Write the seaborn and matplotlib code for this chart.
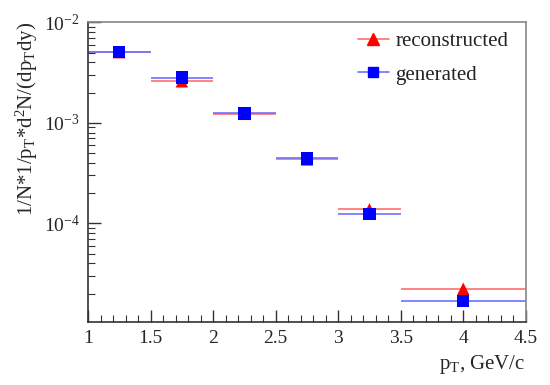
import numpy as np
import pandas as pd
import matplotlib
matplotlib.use("Agg")
import matplotlib.pyplot as plt
import seaborn as sns
from matplotlib.ticker import LogLocator, MultipleLocator, NullFormatter
from matplotlib.lines import Line2D

# data
pt_centers = [1.25, 1.75, 2.25, 2.75, 3.25, 4.0]
pt_halfwidth = [0.25, 0.25, 0.25, 0.25, 0.25, 0.5]
reconstructed = [5.05e-3, 2.59e-3, 1.23e-3, 4.33e-4, 1.38e-4, 2.24e-5]
generated = [5.1e-3, 2.82e-3, 1.245e-3, 4.43e-4, 1.24e-4, 1.69e-5]
x_ticks = [1, 1.5, 2, 2.5, 3, 3.5, 4, 4.5]
x_tick_labels = ["1", "1.5", "2", "2.5", "3", "3.5", "4", "4.5"]

sns.set_theme(style="ticks")
plt.rcParams["font.family"] = ["Liberation Serif", "DejaVu Serif"]
plt.rcParams["mathtext.fontset"] = "custom"
plt.rcParams["mathtext.rm"] = "Liberation Serif"
plt.rcParams["mathtext.it"] = "Liberation Serif:italic"

df = pd.DataFrame({
    "pt": pt_centers * 2,
    "err": pt_halfwidth * 2,
    "val": reconstructed + generated,
    "series": ["reconstructed"] * len(pt_centers) + ["generated"] * len(pt_centers),
})

fig = plt.figure(figsize=(5.5, 3.85), dpi=100)
ax = fig.add_axes([0.16, 0.164, 0.796, 0.778])

line_col = {"reconstructed": "#ff7070", "generated": "#7070ff"}
mk_col = {"reconstructed": "#ff0000", "generated": "#0000ff"}
mk = {"reconstructed": "^", "generated": "s"}

for s in ["reconstructed", "generated"]:
    d = df[df.series == s]
    ax.errorbar(d.pt, d.val, xerr=d.err, fmt="none", ecolor=line_col[s], elinewidth=1.2, capsize=0, zorder=2)
sns.scatterplot(data=df, x="pt", y="val", hue="series", style="series",
                markers=mk, palette=mk_col, s=80, linewidth=0, ax=ax, legend=False, zorder=3)

ax.set_yscale("log")
ax.set_xlim(1, 4.5)
ax.set_ylim(1.05e-5, 1e-2)
ax.set_xticks(x_ticks)
ax.set_xticklabels(x_tick_labels)
ax.xaxis.set_minor_locator(MultipleLocator(0.1))
ax.yaxis.set_major_locator(LogLocator(base=10, numticks=10))
ax.yaxis.set_minor_locator(LogLocator(base=10, subs=np.arange(2, 10), numticks=20))
ax.yaxis.set_minor_formatter(NullFormatter())
ax.tick_params(which="major", direction="in", length=9, width=1, labelsize=14, color="#333333", pad=6)
ax.tick_params(which="minor", direction="in", length=5, width=0.8, color="#333333")
ax.tick_params(top=False, right=False)
for name, sp in ax.spines.items():
    sp.set_color("#333333" if name in ("left", "bottom") else "#888888")
    sp.set_linewidth(1.2)

ax.set_xlabel(r"p$_{\rm T}$, GeV/c", fontsize=15, loc="right", labelpad=4)
ax.set_ylabel(r"1/N*1/p$_{\rm T}$*d$^{2}$N/(dp$_{\rm T}$dy)", fontsize=15, loc="top", labelpad=3)

handles = [
    Line2D([], [], color=line_col["reconstructed"], marker="^", markerfacecolor=mk_col["reconstructed"],
           markeredgecolor=mk_col["reconstructed"], markersize=8, lw=1.2),
    Line2D([], [], color=line_col["generated"], marker="s", markerfacecolor=mk_col["generated"],
           markeredgecolor=mk_col["generated"], markersize=7, lw=1.2),
]
leg = ax.legend(handles, ["reconstructed", "generated"], loc="upper left",
                bbox_to_anchor=(0.616, 0.968), fontsize=15, frameon=False,
                borderaxespad=0.0, borderpad=0.0, handlelength=1.5, handletextpad=0.3,
                labelspacing=0.65)
for t in leg.get_texts():
    t.set_color("#222222")

fig.savefig("out.png", dpi=100)
